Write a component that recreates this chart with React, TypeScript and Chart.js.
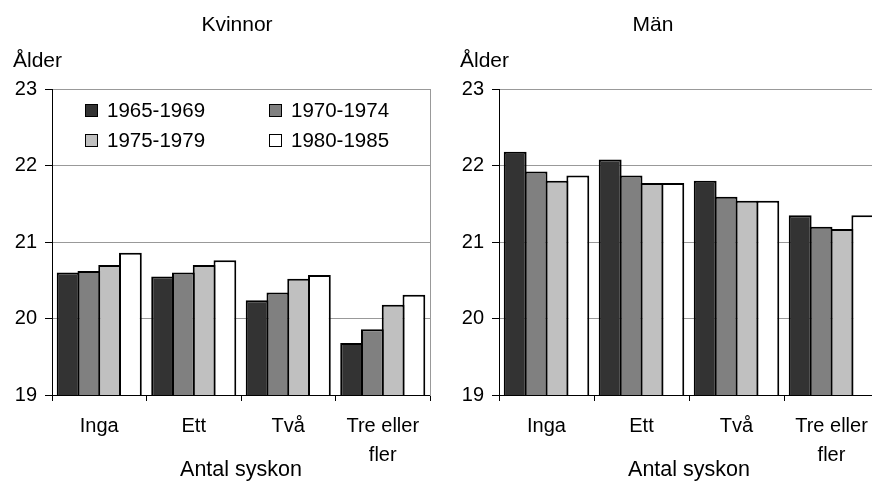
import React, { useEffect, useRef } from 'react';
import { Chart, registerables } from 'chart.js';

Chart.register(...registerables);

const FONT = "'Liberation Sans', Arial, sans-serif";
Chart.defaults.font.family = FONT;
Chart.defaults.color = '#000';

// ---- data ----
const categories: (string | string[])[] = ['Inga', 'Ett', 'Två', ['Tre eller', 'fler']];
const seriesLabels = ['1965-1969', '1970-1974', '1975-1979', '1980-1985'];
const seriesColors = ['#333333', '#808080', '#c0c0c0', '#ffffff'];

const kvinnor1965 = [20.6, 20.55, 20.24, 19.68];
const kvinnor1970 = [20.62, 20.6, 20.34, 19.86];
const kvinnor1975 = [20.7, 20.7, 20.52, 20.18];
const kvinnor1980 = [20.86, 20.76, 20.57, 20.31];

const man1965 = [22.18, 22.08, 21.8, 21.35];
const man1970 = [21.92, 21.87, 21.59, 21.2];
const man1975 = [21.8, 21.77, 21.54, 21.17];
const man1980 = [21.87, 21.77, 21.54, 21.35];

const yMin = 19;
const yMax = 23;
const yStep = 1;

const titleKvinnor = 'Kvinnor';
const titleMan = 'Män';
const yAxisLabel = 'Ålder';
const xAxisLabel = 'Antal syskon';

const CANVAS_H = 481;

function panelTextPlugin(title: string, titleX: number, showLegend: boolean) {
  return {
    id: 'panelText',
    afterDraw(chart: any) {
      const ctx = chart.ctx as CanvasRenderingContext2D;
      const { left, top } = chart.chartArea;
      ctx.save();
      ctx.fillStyle = '#000';
      ctx.textBaseline = 'alphabetic';
      ctx.font = `21px ${FONT}`;
      ctx.textAlign = 'center';
      ctx.fillText(title, titleX, 31);
      ctx.textAlign = 'left';
      ctx.fillText(yAxisLabel, left - 39, 67);
      if (showLegend) {
        ctx.font = `20.5px ${FONT}`;
        chart.data.datasets.forEach((ds: any, i: number) => {
          const col = i % 2;
          const row = Math.floor(i / 2);
          const bx = Math.round(left + 33 + col * 184);
          const base = Math.round(top + 28 + row * 30);
          ctx.fillStyle = ds.backgroundColor;
          ctx.fillRect(bx, base - 13, 13, 13);
          ctx.strokeStyle = '#000';
          ctx.lineWidth = 1;
          ctx.strokeRect(bx + 0.5, base - 12.5, 12, 12);
          ctx.fillStyle = '#000';
          ctx.fillText(ds.label, bx + 22, base);
        });
      }
      ctx.restore();
    },
  };
}

function makeConfig(values: number[][], title: string, titleX: number, showLegend: boolean): any {
  return {
    type: 'bar',
    data: {
      labels: categories,
      datasets: seriesLabels.map((label, i) => ({
        label,
        data: values[i],
        backgroundColor: seriesColors[i],
        borderColor: '#000',
        borderWidth: 2,
        barPercentage: 1.096,
        categoryPercentage: 0.879,
        yAxisID: 'y',
      })),
    },
    options: {
      responsive: false,
      animation: false,
      layout: { padding: { top: 89, right: 17, bottom: 0, left: 0 } },
      plugins: {
        legend: { display: false },
        title: { display: false },
        tooltip: { enabled: false },
      },
      scales: {
        x: {
          type: 'category',
          offset: true,
          grid: {
            display: true,
            drawOnChartArea: false,
            drawTicks: true,
            tickLength: 6,
            color: '#000',
            offset: true,
          },
          border: { display: true, color: '#000', width: 1 },
          ticks: {
            color: '#000',
            font: { size: 20, lineHeight: 1.45 },
            padding: 11,
            maxRotation: 0,
            autoSkip: false,
          },
          title: {
            display: true,
            text: xAxisLabel,
            color: '#000',
            font: { size: 21.5, lineHeight: 1 },
            padding: { top: 0, bottom: 0 },
          },
          afterFit: (s: any) => {
            s.height = 86;
          },
        },
        y: {
          type: 'linear',
          position: 'left',
          min: yMin,
          max: yMax,
          ticks: { stepSize: yStep, color: '#000', font: { size: 20 }, padding: 8 },
          grid: {
            color: (c: any) => (c.tick && c.tick.value === yMin ? 'rgba(0,0,0,0)' : '#999999'),
            tickColor: '#000',
            tickLength: 7,
            lineWidth: 1,
          },
          border: { display: true, color: '#000', width: 1 },
          afterFit: (s: any) => {
            s.width = 52;
          },
        },
        yRight: {
          type: 'linear',
          position: 'right',
          min: yMin,
          max: yMax,
          ticks: { display: false },
          grid: { display: false, drawTicks: false },
          border: { display: true, color: '#999999', width: 1 },
          afterFit: (s: any) => {
            s.width = 0;
          },
        },
      },
    },
    plugins: [panelTextPlugin(title, titleX, showLegend)],
  };
}

function Panel(props: {
  left: number;
  width: number;
  values: number[][];
  title: string;
  titleX: number;
  showLegend: boolean;
}) {
  const ref = useRef<HTMLCanvasElement>(null);
  useEffect(() => {
    const chart = new Chart(
      ref.current as HTMLCanvasElement,
      makeConfig(props.values, props.title, props.titleX, props.showLegend)
    );
    return () => chart.destroy();
  }, []);
  return (
    <canvas
      ref={ref}
      width={props.width}
      height={CANVAS_H}
      style={{
        position: 'absolute',
        left: props.left,
        top: 0,
        width: props.width,
        height: CANVAS_H,
        display: 'block',
      }}
    />
  );
}

export default function App() {
  return (
    <div
      style={{
        position: 'fixed',
        left: 0,
        top: 0,
        width: 872,
        height: 481,
        overflow: 'hidden',
        background: '#fff',
      }}
    >
      <Panel
        left={0}
        width={447}
        values={[kvinnor1965, kvinnor1970, kvinnor1975, kvinnor1980]}
        title={titleKvinnor}
        titleX={237}
        showLegend={true}
      />
      <Panel
        left={447}
        width={449}
        values={[man1965, man1970, man1975, man1980]}
        title={titleMan}
        titleX={206}
        showLegend={false}
      />
    </div>
  );
}
